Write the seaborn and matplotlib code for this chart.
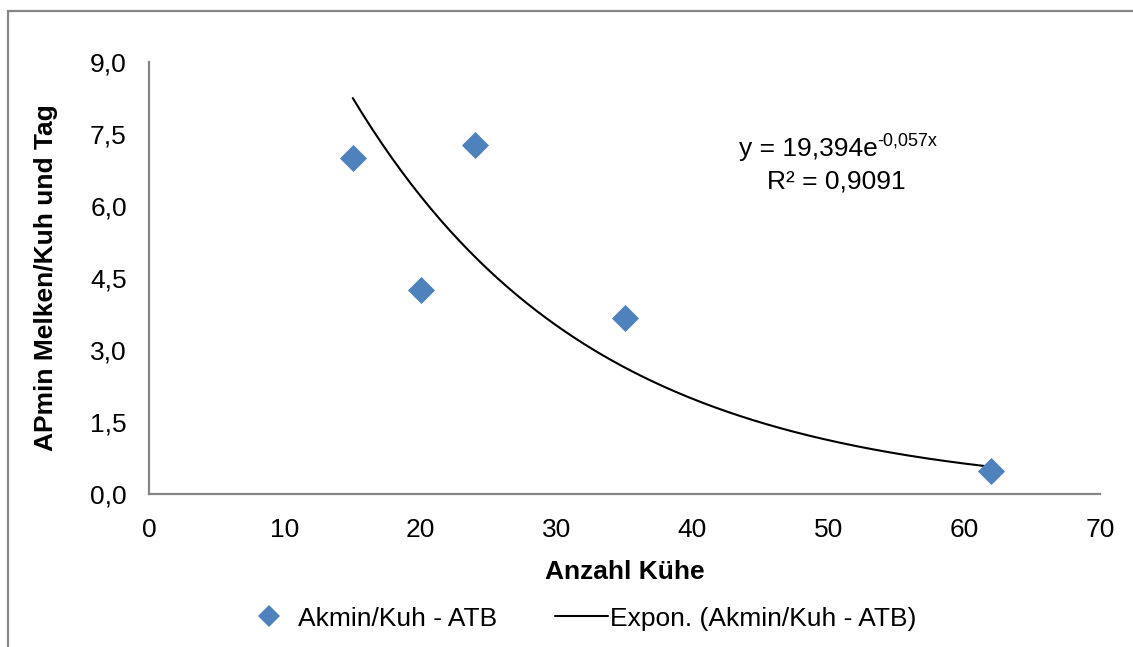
import numpy as np
import pandas as pd
import matplotlib
matplotlib.use("Agg")
import matplotlib.pyplot as plt
from matplotlib.lines import Line2D
from matplotlib.patches import Rectangle
import seaborn as sns

# ---- data ----
kuehe = [15, 20, 24, 35, 62]
apmin = [7.0, 4.25, 7.28, 3.67, 0.48]
trend_a = 19.394
trend_b = -0.057
x_ticks = [0, 10, 20, 30, 40, 50, 60, 70]
y_ticks = [0.0, 1.5, 3.0, 4.5, 6.0, 7.5, 9.0]
y_tick_labels = ["0,0", "1,5", "3,0", "4,5", "6,0", "7,5", "9,0"]
series_name = "Akmin/Kuh - ATB"
trend_name = "Expon. (Akmin/Kuh - ATB)"
eq_main = "y = 19,394e"
eq_sup = "-0,057x"
r2_text = "R² = 0,9091"
x_label = "Anzahl Kühe"
y_label = "APmin Melken/Kuh und Tag"

sns.set_theme(style="white")
plt.rcParams["font.family"] = ["Liberation Sans", "DejaVu Sans"]
plt.rcParams["text.color"] = "black"
plt.rcParams["axes.labelcolor"] = "black"

blue = "#4F81BD"
gray = "#868686"
fs = 19

fig = plt.figure(figsize=(11.33, 6.47), dpi=100)
ax = fig.add_axes([0.1315, 0.2365, 0.8394, 0.6677])

df = pd.DataFrame({"x": kuehe, "y": apmin})
xs = np.linspace(min(kuehe), max(kuehe), 200)
trend = pd.DataFrame({"x": xs, "y": trend_a * np.exp(trend_b * xs)})

sns.lineplot(data=trend, x="x", y="y", ax=ax, color="black", lw=1.5, zorder=2)
sns.scatterplot(data=df, x="x", y="y", ax=ax, marker="D", s=190, color=blue,
                edgecolor=blue, linewidth=0, zorder=3)

ax.set_xlim(0, 70)
ax.set_ylim(0, 9)
ax.set_xticks(x_ticks)
ax.set_xticklabels([str(v) for v in x_ticks])
ax.set_yticks(y_ticks)
ax.set_yticklabels(y_tick_labels)
ax.tick_params(axis="both", direction="out", length=5, width=1.3, color=gray,
               labelsize=fs, labelcolor="black")
ax.tick_params(axis="y", pad=11)
ax.tick_params(axis="x", pad=12)
for s in ["top", "right"]:
    ax.spines[s].set_visible(False)
for s in ["left", "bottom"]:
    ax.spines[s].set_color(gray)
    ax.spines[s].set_linewidth(1.6)

ax.set_xlabel(x_label, fontsize=fs, fontweight="bold", labelpad=13)
ax.set_ylabel(y_label, fontsize=fs, fontweight="bold", labelpad=23)

t_main = ax.text(0.6202, 0.799, eq_main, transform=ax.transAxes, fontsize=fs,
                 ha="left", va="center")
ax.annotate(eq_sup, xy=(1.0, 0.82), xycoords=t_main, fontsize=13,
            ha="left", va="center")
ax.text(0.7228, 0.724, r2_text, transform=ax.transAxes, fontsize=fs,
        ha="center", va="center")

handles = [
    Line2D([], [], marker="D", color=blue, linestyle="none", markersize=11.5,
           markeredgewidth=0),
    Line2D([], [], color="black", lw=1.5),
]
fig.legend(handles, [series_name, trend_name], loc="center",
           bbox_to_anchor=(0.5115, 0.044), ncol=2, frameon=False, fontsize=fs,
           handlelength=2.0, handletextpad=0.1, columnspacing=2.2)

fig.patches.append(Rectangle((8 / 1133, -0.1), 1.2, 1 - 11 / 647 + 0.1,
                             transform=fig.transFigure, fill=False,
                             edgecolor=gray, lw=1.6, zorder=0))

fig.savefig("out.png", dpi=100, facecolor="white")
